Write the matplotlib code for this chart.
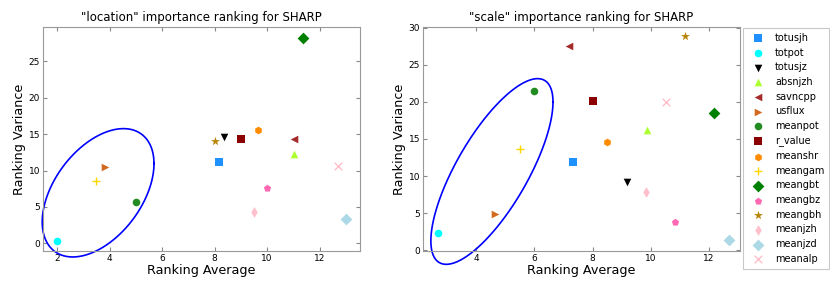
import matplotlib.pyplot as plt
import numpy as np

# features, one marker / colour each
names = ['totusjh', 'totpot', 'totusjz', 'absnjzh', 'savncpp', 'usflux',
         'meanpot', 'r_value', 'meanshr', 'meangam', 'meangbt', 'meangbz',
         'meangbh', 'meanjzh', 'meanjzd', 'meanalp']
markers = ['s', 'o', 'v', '^', '<', '>', 'o', 's', 'h', '+', 'D', 'p',
           '*', 'd', 'D', 'x']
colors = ['dodgerblue', 'cyan', 'black', 'greenyellow', 'brown', 'chocolate',
          'forestgreen', 'darkred', 'darkorange', 'gold', 'green', 'hotpink',
          'darkgoldenrod', 'pink', 'lightblue', 'pink']

# "location" ranking
loc_avg = [8.18, 2.0, 8.34, 11.02, 11.04, 3.82, 4.99, 9.0, 9.67, 3.49,
           11.35, 10.0, 8.0, 9.5, 13.02, 12.69]
loc_var = [11.13, 0.37, 14.6, 12.3, 14.38, 10.53, 5.68, 14.33, 15.57, 8.6,
           28.25, 7.65, 14.06, 4.26, 3.3, 10.62]

# "scale" ranking
scl_avg = [7.34, 2.67, 9.19, 9.86, 7.2, 4.65, 5.99, 8.0, 8.5, 5.51,
           12.19, 10.84, 11.18, 9.84, 12.68, 10.52]
scl_var = [11.93, 2.26, 9.22, 16.18, 27.52, 4.93, 21.42, 20.06, 14.64, 13.65,
           18.53, 3.84, 28.87, 7.82, 1.36, 19.97]

# highlighted cluster: centre, half extents, phase
loc_ell = (3.56, 6.94, 2.13, 8.81, 63)
scl_ell = (4.54, 10.62, 2.10, 12.52, 41.6)


def draw(ax, xs, ys, ell, title, xlim, ylim, yticks):
    for i in range(len(names)):
        sz = 30
        if markers[i] == 'D':
            sz = 36
        if markers[i] == '*':
            sz = 45
        ax.scatter(xs[i], ys[i], marker=markers[i], c=colors[i], s=sz,
                   linewidths=1.0 if markers[i] in '+x' else 0, label=names[i])
    cx, cy, hx, hy, ph = ell
    t = np.linspace(0, 2 * np.pi, 200)
    ax.plot(cx + hx * np.cos(t), cy + hy * np.cos(t - np.radians(ph)),
            color='blue', lw=1.2, clip_on=False)
    ax.set_xlim(xlim)
    ax.set_ylim(ylim)
    ax.set_yticks(yticks)
    ax.set_title(title, fontsize=8.5, pad=4)
    ax.set_xlabel('Ranking Average', fontsize=9.2, labelpad=1)
    ax.set_ylabel('Ranking Variance', fontsize=9.2, labelpad=2)
    ax.tick_params(direction='in', top=True, right=True, labelsize=6.5,
                   color='#888888', length=3, pad=2)
    for s in ax.spines.values():
        s.set_color('#999999')


fig = plt.figure(figsize=(8.3, 2.91), dpi=100)
ax1 = fig.add_axes([43 / 830, 40 / 291, 317 / 830, 224 / 291])
ax2 = fig.add_axes([423 / 830, 40 / 291, 317 / 830, 224 / 291])

draw(ax1, loc_avg, loc_var, loc_ell, '"location" importance ranking for SHARP',
     (1.46, 13.54), (-1.05, 29.7), [0, 5, 10, 15, 20, 25])
draw(ax2, scl_avg, scl_var, scl_ell, '"scale" importance ranking for SHARP',
     (2.17, 13.07), (-0.1, 30.1), [0, 5, 10, 15, 20, 25, 30])

h, l = ax2.get_legend_handles_labels()
leg = fig.legend(h, l, loc='upper left', bbox_to_anchor=(743 / 830, 1 - 28 / 291),
                 borderaxespad=0, fontsize=7, labelspacing=0.48,
                 handletextpad=0.8, borderpad=0.5, fancybox=False,
                 scatterpoints=1)
leg.get_frame().set_edgecolor('#bbbbbb')
leg.get_frame().set_linewidth(0.8)

fig.savefig('out.png', dpi=100)
